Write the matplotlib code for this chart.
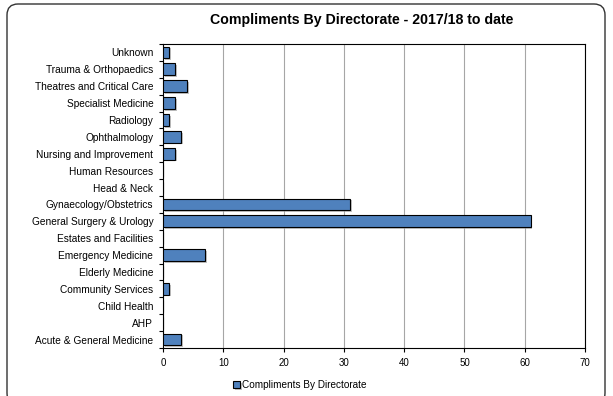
import matplotlib
matplotlib.use("Agg")
import matplotlib.pyplot as plt
import numpy as np
from matplotlib.patches import FancyBboxPatch
from matplotlib.transforms import IdentityTransform
import matplotlib.patheffects as pe

plt.rcParams['font.family'] = ['Liberation Sans', 'DejaVu Sans']

# data, bottom to top
directorates = ['Acute & General Medicine', 'AHP', 'Child Health', 'Community Services',
                'Elderly Medicine', 'Emergency Medicine', 'Estates and Facilities',
                'General Surgery & Urology', 'Gynaecology/Obstetrics', 'Head & Neck',
                'Human Resources', 'Nursing and Improvement', 'Ophthalmology',
                'Radiology', 'Specialist Medicine', 'Theatres and Critical Care',
                'Trauma & Orthopaedics', 'Unknown']
compliments = [3, 0, 0, 1, 0, 7, 0, 61, 31, 0, 0, 2, 3, 1, 2, 4, 2, 1]
x_ticks = [0, 10, 20, 30, 40, 50, 60, 70]

W, H = 613, 396
fig = plt.figure(figsize=(W / 100, H / 100), dpi=100)
# axes box in pixels: left 163, right 585, top 44, bottom 348
ax = fig.add_axes([163 / W, 1 - 348 / H, (585 - 163) / W, (348 - 44) / H])

# rounded outer border (bottom edge runs off the image), pixel coords
border = FancyBboxPatch((7, -8), 598, H - 4 + 8,
                        boxstyle="round,pad=0,rounding_size=11",
                        transform=IdentityTransform(), fill=False,
                        edgecolor='#333333', linewidth=1.0)
fig.patches.append(border)

y = np.arange(len(directorates))
bars = ax.barh(y, compliments, height=0.7, color='#4F81BD', edgecolor='black',
               linewidth=0.8, label='Compliments By Directorate', zorder=3)
for b in bars:
    if b.get_width() > 0:
        b.set_path_effects([pe.SimplePatchShadow(offset=(1.2, -1.2), shadow_rgbFace='#999999', alpha=0.6),
                            pe.Normal()])

ax.set_xlim(0, 70)
ax.set_ylim(-0.5, len(directorates) - 0.5)
ax.set_xticks(x_ticks)
ax.set_yticks(y)
ax.set_yticklabels(directorates)
ax.set_yticks(np.arange(-0.5, len(directorates), 1), minor=True)
ax.tick_params(axis='y', which='major', length=0, labelsize=7.3, pad=7)
ax.tick_params(axis='y', which='minor', length=3, direction='out', width=0.8)
ax.tick_params(axis='x', length=3, direction='out', labelsize=7, width=0.8, pad=4)

ax.grid(axis='x', color='#a6a6a6', linewidth=0.8, zorder=0)
for s in ax.spines.values():
    s.set_linewidth(0.8)
    s.set_color('black')

fig.text(362 / W, 1 - 20 / H, 'Compliments By Directorate - 2017/18 to date',
         fontsize=10.2, fontweight='bold', ha='center', va='center')

fig.legend(loc='center', bbox_to_anchor=(300 / W, 1 - 385 / H), frameon=False, fontsize=7.2,
           handlelength=0.7, handleheight=0.7, handletextpad=0.2)

fig.savefig('out.png', dpi=100)
